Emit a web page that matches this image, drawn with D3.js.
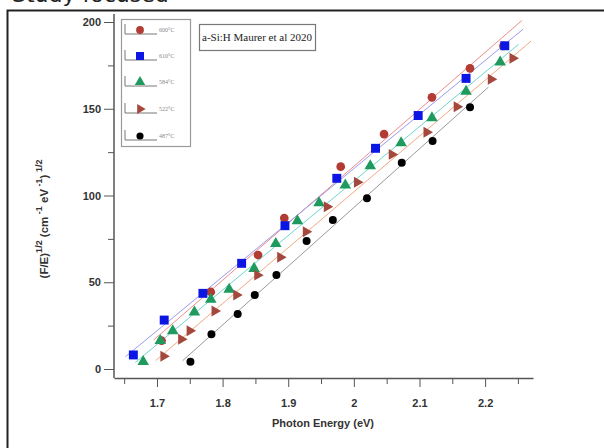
<!DOCTYPE html>
<meta charset="utf-8">
<style>
body { margin: 0; background: #fff; }
text { font-family: "Liberation Sans", Arial, sans-serif; }
.tick text { font-weight: bold; font-size: 11px; fill: #333; }
.axis path, .axis line { stroke: #555; }
</style>
<svg width="604" height="448"></svg>
<script src="https://d3js.org/d3.v7.min.js"></script>
<script>

// temperatures (legend order)
var labels = ["600°C", "610°C", "584°C", "522°C", "487°C"];

var e600 = [1.707, 1.782, 1.854, 1.894, 1.980, 2.046, 2.119, 2.177, 2.228];
var v600 = [16.3, 44.4, 65.7, 87.0, 116.6, 135.4, 156.6, 173.3, 186.2];

var e610 = [1.664, 1.711, 1.770, 1.829, 1.895, 1.974, 2.033, 2.098, 2.171, 2.230];
var v610 = [8.1, 28.2, 43.6, 60.9, 82.6, 109.9, 127.2, 146.1, 167.5, 186.3];

var e584 = [1.679, 1.705, 1.724, 1.757, 1.782, 1.810, 1.848, 1.881, 1.914, 1.947, 1.987, 2.025, 2.072, 2.119, 2.171, 2.223];
var v584 = [4.2, 16.3, 21.9, 32.7, 40.1, 45.9, 57.9, 72.3, 85.3, 95.7, 105.9, 117.0, 130.3, 144.7, 160.0, 176.9];

var e522 = [1.710, 1.737, 1.750, 1.788, 1.821, 1.853, 1.888, 1.927, 1.959, 2.005, 2.058, 2.111, 2.157, 2.209, 2.242];
var v522 = [7.3, 17.1, 22.1, 33.4, 42.6, 54.1, 64.4, 79.1, 93.5, 107.6, 123.7, 136.4, 151.2, 167.0, 179.1];

var e487 = [1.751, 1.783, 1.823, 1.849, 1.882, 1.928, 1.968, 2.020, 2.073, 2.120, 2.177];
var v487 = [4.2, 20.0, 31.7, 42.7, 54.2, 73.8, 85.9, 98.4, 118.9, 131.4, 150.8];

var xTicks = [1.7, 1.8, 1.9, 2.0, 2.1, 2.2];
var yTicks = [0, 50, 100, 150, 200];

var series = [
  {label: labels[0], e: e600, v: v600, fill: "#b23c34", line: "#ec8c8c", sym: d3.symbolCircle, size: 60},
  {label: labels[1], e: e610, v: v610, fill: "#0c16e4", line: "#9a9aec", sym: d3.symbolSquare, size: 80},
  {label: labels[2], e: e584, v: v584, fill: "#1e9a5e", line: "#70d4cc", sym: d3.symbolTriangle, size: 58},
  {label: labels[3], e: e522, v: v522, fill: "#a4483e", line: "#f2a880", sym: d3.symbolTriangle, size: 52, rot: 90},
  {label: labels[4], e: e487, v: v487, fill: "#000000", line: "#999999", sym: d3.symbolCircle, size: 50}
];

var svg = d3.select("svg");

// page frame and clipped heading above it
svg.append("text")
    .attr("x", 12).attr("y", 2)
    .style("font-family", "DejaVu Sans, sans-serif")
    .style("font-size", "22px")
    .attr("fill", "#222")
    .text("Study focused");
svg.append("rect")
    .attr("x", 7.5).attr("y", 10.5)
    .attr("width", 620).attr("height", 460)
    .attr("fill", "#fff")
    .attr("stroke", "#222").attr("stroke-width", 2);

var x = d3.scaleLinear().domain([1.6345, 2.273]).range([114, 533]);
var y = d3.scaleLinear().domain([0, 200]).range([369, 22]);

// x axis
var xMinor = d3.range(1.65, 2.26, 0.1);
svg.append("g").attr("class", "axis")
    .attr("transform", "translate(0,378)")
    .call(d3.axisBottom(x).tickValues(xMinor).tickSize(6).tickFormat(""))
    .call(function(g) { g.select(".domain").remove(); });
var gx = svg.append("g").attr("class", "axis")
    .attr("transform", "translate(0,378)")
    .call(d3.axisBottom(x).tickValues(xTicks).tickSize(9).tickSizeOuter(0).tickPadding(12)
      .tickFormat(function(d) { return d3.format("~g")(d); }));
gx.select(".domain").attr("stroke-width", 1.5);

// y axis
var yMinor = d3.range(25, 200, 50);
svg.append("g").attr("class", "axis")
    .attr("transform", "translate(114,0)")
    .call(d3.axisLeft(y).tickValues(yMinor).tickSize(6).tickFormat(""))
    .call(function(g) { g.select(".domain").remove(); });
var gy = svg.append("g").attr("class", "axis")
    .attr("transform", "translate(114,0)")
    .call(d3.axisLeft(y).tickValues(yTicks).tickSize(10).tickSizeOuter(0).tickPadding(3));
gy.select(".domain").attr("d", "M0," + 14 + "V378").attr("stroke-width", 1.5);

// axis titles
svg.append("text")
    .attr("x", 323).attr("y", 427)
    .attr("text-anchor", "middle")
    .style("font-weight", "bold").style("font-size", "11px").attr("fill", "#333")
    .text("Photon Energy (eV)");

var yl = svg.append("text")
    .attr("transform", "translate(48,219) rotate(-90)")
    .attr("text-anchor", "middle")
    .style("font-weight", "bold").style("font-size", "11.5px").attr("fill", "#333");
yl.append("tspan").text("(F/E)");
yl.append("tspan").attr("dy", -6).style("font-size", "9px").text("1/2");
yl.append("tspan").attr("dy", 6).text("  (cm");
yl.append("tspan").attr("dy", -6).style("font-size", "9px").text(" -1");
yl.append("tspan").attr("dy", 6).text(" eV");
yl.append("tspan").attr("dy", -6).style("font-size", "9px").text(" -1");
yl.append("tspan").attr("dy", 6).text(")");
yl.append("tspan").attr("dy", -6).style("font-size", "9px").text(" 1/2");

// fitted lines
var plot = svg.append("g");
series.forEach(function(s) {
  var n = s.e.length,
      mx = d3.mean(s.e), my = d3.mean(s.v),
      sxy = d3.sum(s.e, function(d, i) { return (d - mx) * (s.v[i] - my); }),
      sxx = d3.sum(s.e, function(d) { return (d - mx) * (d - mx); }),
      b = sxy / sxx, a = my - b * mx;
  var x0 = s.e[0] - 0.012, x1 = s.e[n - 1] + 0.028;
  plot.append("line")
      .attr("x1", x(x0)).attr("y1", y(a + b * x0))
      .attr("x2", x(x1)).attr("y2", y(a + b * x1))
      .attr("stroke", s.line).attr("stroke-width", 1);
});

// markers
series.forEach(function(s) {
  var sym = d3.symbol().type(s.sym).size(s.size);
  plot.selectAll(null)
    .data(s.e.map(function(d, i) { return [d, s.v[i]]; }))
    .enter().append("path")
      .attr("d", sym)
      .attr("transform", function(d) {
        return "translate(" + x(d[0]) + "," + y(d[1]) + ")" + (s.rot ? " rotate(" + s.rot + ")" : "");
      })
      .attr("fill", s.fill);
});

// legend
var leg = svg.append("g");
leg.append("rect")
    .attr("x", 121.5).attr("y", 19.5).attr("width", 69).attr("height", 127)
    .attr("fill", "#fff").attr("stroke", "#999").attr("stroke-width", 1.2);
var rows = [30, 56, 82, 109, 136];
series.forEach(function(s, i) {
  var ry = rows[i];
  leg.append("path")
      .attr("d", "M125," + (ry - 6) + "V" + (ry + 4) + "H157")
      .attr("fill", "none").attr("stroke", "#777").attr("stroke-width", 1);
  leg.append("path")
      .attr("d", d3.symbol().type(s.sym).size(s.size * 0.8))
      .attr("transform", "translate(140," + ry + ")" + (s.rot ? " rotate(" + s.rot + ")" : ""))
      .attr("fill", s.fill);
  leg.append("text")
      .attr("x", 159).attr("y", ry + 2)
      .style("font-family", "Liberation Serif, serif").style("font-size", "6px")
      .attr("fill", "#888")
      .text(s.label);
});

// title box
svg.append("rect")
    .attr("x", 199.5).attr("y", 24.5).attr("width", 116).attr("height", 26)
    .attr("fill", "#fff").attr("stroke", "#777").attr("stroke-width", 1.2);
svg.append("text")
    .attr("x", 257).attr("y", 41)
    .attr("text-anchor", "middle")
    .style("font-family", "Liberation Serif, serif").style("font-size", "11px")
    .attr("fill", "#222")
    .text("a-Si:H Maurer et al 2020");

</script>
